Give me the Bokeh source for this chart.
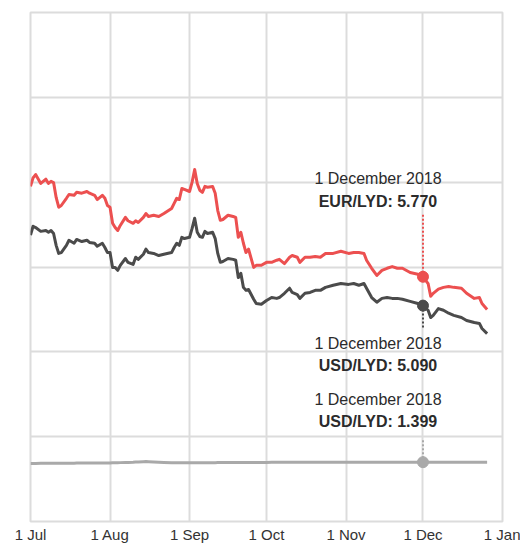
import pandas as pd
from bokeh.plotting import figure
from bokeh.models import Range1d, FixedTicker
from bokeh.core.properties import value
from bokeh.embed import file_html
from bokeh.resources import INLINE

# ---- data ----
dates = [
    "2018-07-01", "2018-07-02", "2018-07-03", "2018-07-05", "2018-07-07", "2018-07-08", "2018-07-09",
    "2018-07-10", "2018-07-11", "2018-07-12", "2018-07-13", "2018-07-15", "2018-07-16", "2018-07-18",
    "2018-07-19", "2018-07-21", "2018-07-23", "2018-07-24", "2018-07-26", "2018-07-27", "2018-07-29",
    "2018-07-30", "2018-07-31",
    "2018-08-01", "2018-08-02", "2018-08-03", "2018-08-04", "2018-08-05", "2018-08-07", "2018-08-08",
    "2018-08-10", "2018-08-11", "2018-08-12", "2018-08-14", "2018-08-15", "2018-08-16", "2018-08-18",
    "2018-08-20", "2018-08-22", "2018-08-25", "2018-08-26", "2018-08-27", "2018-08-28", "2018-08-29",
    "2018-08-30",
    "2018-09-01", "2018-09-02", "2018-09-03", "2018-09-04", "2018-09-05", "2018-09-06", "2018-09-07",
    "2018-09-08", "2018-09-10", "2018-09-11", "2018-09-12", "2018-09-13", "2018-09-14", "2018-09-16",
    "2018-09-18", "2018-09-19", "2018-09-20", "2018-09-21", "2018-09-22", "2018-09-23", "2018-09-24",
    "2018-09-26", "2018-09-27", "2018-09-29",
    "2018-10-01", "2018-10-03", "2018-10-05", "2018-10-06", "2018-10-08", "2018-10-10", "2018-10-11",
    "2018-10-13", "2018-10-14", "2018-10-16", "2018-10-18", "2018-10-20", "2018-10-22", "2018-10-24",
    "2018-10-27", "2018-10-30",
    "2018-11-02", "2018-11-04", "2018-11-06", "2018-11-08", "2018-11-09", "2018-11-11", "2018-11-13",
    "2018-11-15", "2018-11-17", "2018-11-19", "2018-11-21", "2018-11-23", "2018-11-26", "2018-11-29",
    "2018-12-01", "2018-12-03", "2018-12-04", "2018-12-05", "2018-12-07", "2018-12-09", "2018-12-11",
    "2018-12-13", "2018-12-16", "2018-12-18", "2018-12-21", "2018-12-23", "2018-12-24", "2018-12-26",
]

eur_lyd_parallel = [
    7.90, 8.10, 8.18, 7.97, 8.07, 7.97, 8.02, 7.99, 7.64, 7.41, 7.45, 7.62, 7.71, 7.69, 7.76, 7.74,
    7.78, 7.74, 7.69, 7.59, 7.69, 7.62, 7.45,
    7.41, 7.03, 6.93, 6.86, 6.98, 7.17, 7.09, 7.03, 7.09, 7.05, 7.17, 7.26, 7.19, 7.22, 7.19, 7.26,
    7.38, 7.50, 7.62, 7.59, 7.85, 7.83,
    7.78, 8.00, 8.30, 7.97, 7.81, 7.76, 7.90, 7.88, 7.90, 7.74, 7.33, 7.10, 7.12, 7.22, 7.19, 7.17,
    6.70, 6.82, 6.56, 6.34, 6.42, 5.99, 6.04, 6.04,
    6.11, 6.11, 6.16, 6.18, 6.08, 6.23, 6.27, 6.23, 6.11, 6.23, 6.23, 6.25, 6.23, 6.32, 6.32, 6.37,
    6.32, 6.34, 6.34, 6.32, 6.16, 5.97, 5.80, 5.92, 5.97, 6.01, 5.97, 5.97, 5.87, 5.83,
    5.77, 5.61, 5.31, 5.38, 5.48, 5.52, 5.54, 5.52, 5.50, 5.38, 5.26, 5.28, 5.14, 5.00,
]

usd_lyd_parallel = [
    6.75, 6.96, 6.93, 6.84, 6.86, 6.82, 6.86, 6.79, 6.51, 6.32, 6.34, 6.51, 6.63, 6.56, 6.65, 6.60,
    6.63, 6.58, 6.56, 6.49, 6.56, 6.46, 6.34,
    6.34, 5.99, 5.99, 5.92, 6.04, 6.20, 6.11, 6.06, 6.23, 6.18, 6.30, 6.42, 6.34, 6.32, 6.27, 6.30,
    6.34, 6.46, 6.56, 6.51, 6.70, 6.67,
    6.70, 6.91, 7.15, 6.82, 6.72, 6.70, 6.84, 6.79, 6.82, 6.67, 6.32, 6.11, 6.13, 6.20, 6.18, 6.16,
    5.75, 5.85, 5.52, 5.45, 5.47, 5.24, 5.14, 5.12,
    5.21, 5.28, 5.26, 5.28, 5.38, 5.50, 5.40, 5.35, 5.26, 5.38, 5.40, 5.45, 5.45, 5.52, 5.57, 5.61,
    5.59, 5.61, 5.57, 5.61, 5.50, 5.28, 5.17, 5.26, 5.28, 5.26, 5.26, 5.24, 5.19, 5.14,
    5.09, 4.98, 4.81, 4.86, 5.02, 4.98, 4.91, 4.86, 4.81, 4.74, 4.69, 4.67, 4.55, 4.43,
]

usd_lyd_official = [
    1.370, 1.370, 1.370, 1.372, 1.372, 1.372, 1.372, 1.373, 1.373, 1.374, 1.375, 1.375, 1.376, 1.376,
    1.377, 1.378, 1.378, 1.379, 1.380, 1.380, 1.381, 1.381, 1.382,
    1.382, 1.384, 1.385, 1.386, 1.388, 1.390, 1.392, 1.396, 1.400, 1.405, 1.410, 1.412, 1.408, 1.402,
    1.396, 1.392, 1.388, 1.386, 1.386, 1.385, 1.385, 1.385,
    1.385, 1.386, 1.386, 1.386, 1.387, 1.387, 1.387, 1.388, 1.388, 1.388, 1.389, 1.389, 1.389, 1.390,
    1.390, 1.390, 1.391, 1.391, 1.391, 1.392, 1.392, 1.392, 1.393, 1.393,
    1.393, 1.394, 1.394, 1.394, 1.395, 1.395, 1.395, 1.396, 1.396, 1.396, 1.396, 1.397, 1.397, 1.397,
    1.397, 1.397,
    1.398, 1.398, 1.398, 1.398, 1.398, 1.398, 1.398, 1.398, 1.399, 1.399, 1.399, 1.399, 1.399, 1.399,
    1.399, 1.399, 1.399, 1.398, 1.398, 1.398, 1.398, 1.398, 1.397, 1.397, 1.397, 1.397, 1.397, 1.397,
]

tick_dates = ["2018-07-01", "2018-08-01", "2018-09-01", "2018-10-01",
              "2018-11-01", "2018-12-01", "2019-01-01"]
tick_labels = ["1 Jul", "1 Aug", "1 Sep", "1 Oct", "1 Nov", "1 Dec", "1 Jan"]
y_ticks = [0, 2, 4, 6, 8, 10, 12]

highlight_date = "2018-12-01"
highlight_title = "1 December 2018"

# ---- styles ----
RED = "#ec5050"
DARK = "#4b4b4b"
GREY = "#a9a9a9"
GRID = "#dcdcdc"
TEXT = "#2b2b2b"
FONT = "Liberation Sans"

W, H = 520, 545
B_LEFT, B_RIGHT, B_TOP, B_BOTTOM = 30, 18, 12, 24

x = pd.to_datetime(dates)
tick_ts = pd.to_datetime(tick_dates)
tick_ms = [int(t.timestamp() * 1000) for t in tick_ts]

p = figure(width=W, height=H, x_axis_type="datetime",
           x_range=Range1d(tick_ts[0], tick_ts[-1]),
           y_range=Range1d(y_ticks[0], y_ticks[-1]),
           output_backend="svg", toolbar_location=None,
           min_border_left=B_LEFT, min_border_right=B_RIGHT,
           min_border_top=B_TOP, min_border_bottom=B_BOTTOM)

p.background_fill_color = "white"
p.border_fill_color = "white"
p.outline_line_color = GRID
p.outline_line_width = 2

p.yaxis.visible = False
p.ygrid.ticker = FixedTicker(ticks=y_ticks)
p.xgrid.ticker = FixedTicker(ticks=tick_ms)
for g in (p.xgrid, p.ygrid):
    g.grid_line_color = GRID
    g.grid_line_width = 2

ax = p.xaxis[0]
ax.ticker = FixedTicker(ticks=tick_ms)
ax.major_label_overrides = {ms: lab for ms, lab in zip(tick_ms, tick_labels)}
ax.axis_line_color = None
ax.major_tick_line_color = None
ax.minor_tick_line_color = None
ax.major_label_standoff = -2
ax.major_label_text_font = FONT
ax.major_label_text_font_size = "15px"
ax.major_label_text_color = "#333333"

# ---- lines ----
p.line(x, usd_lyd_official, line_color=GREY, line_width=3, line_join="round")
p.line(x, usd_lyd_parallel, line_color=DARK, line_width=3, line_join="round")
p.line(x, eur_lyd_parallel, line_color=RED, line_width=3, line_join="round")

# ---- highlight at 1 December ----
i = dates.index(highlight_date)
hx = x[i]
frame_h = H - B_TOP - B_BOTTOM
ppu = frame_h / (y_ticks[-1] - y_ticks[0])  # pixels per unit

highlights = [
    # (series name, values, color, dotted length in px (+up / -down), label offsets (date, value) px)
    ("EUR/LYD", eur_lyd_parallel, RED, 64, (-98, -75)),
    ("USD/LYD", usd_lyd_parallel, DARK, -24, (38, 60)),
    ("USD/LYD", usd_lyd_official, GREY, 24, (-63, -41)),
]

for name, vals, col, dot_len, (off_date, off_val) in highlights:
    v = vals[i]
    p.segment(x0=[hx], y0=[v], x1=[hx], y1=[v + dot_len / ppu],
              line_color=col, line_width=2, line_dash="2 2")
    p.scatter([hx], [v], size=11, fill_color=col, line_color=col)
    p.text(x=[hx], y=[v], text=[highlight_title], x_offset=-45, y_offset=off_date,
           text_align="center", text_baseline="middle",
           text_font=value(FONT), text_font_size="16px", text_color=TEXT)
    p.text(x=[hx], y=[v], text=[f"{name}: {v:.3f}"], x_offset=-45, y_offset=off_val,
           text_align="center", text_baseline="middle",
           text_font=value(FONT), text_font_size="16px", text_font_style="bold",
           text_color=TEXT)

open("out.html", "w").write(file_html(p, INLINE))
